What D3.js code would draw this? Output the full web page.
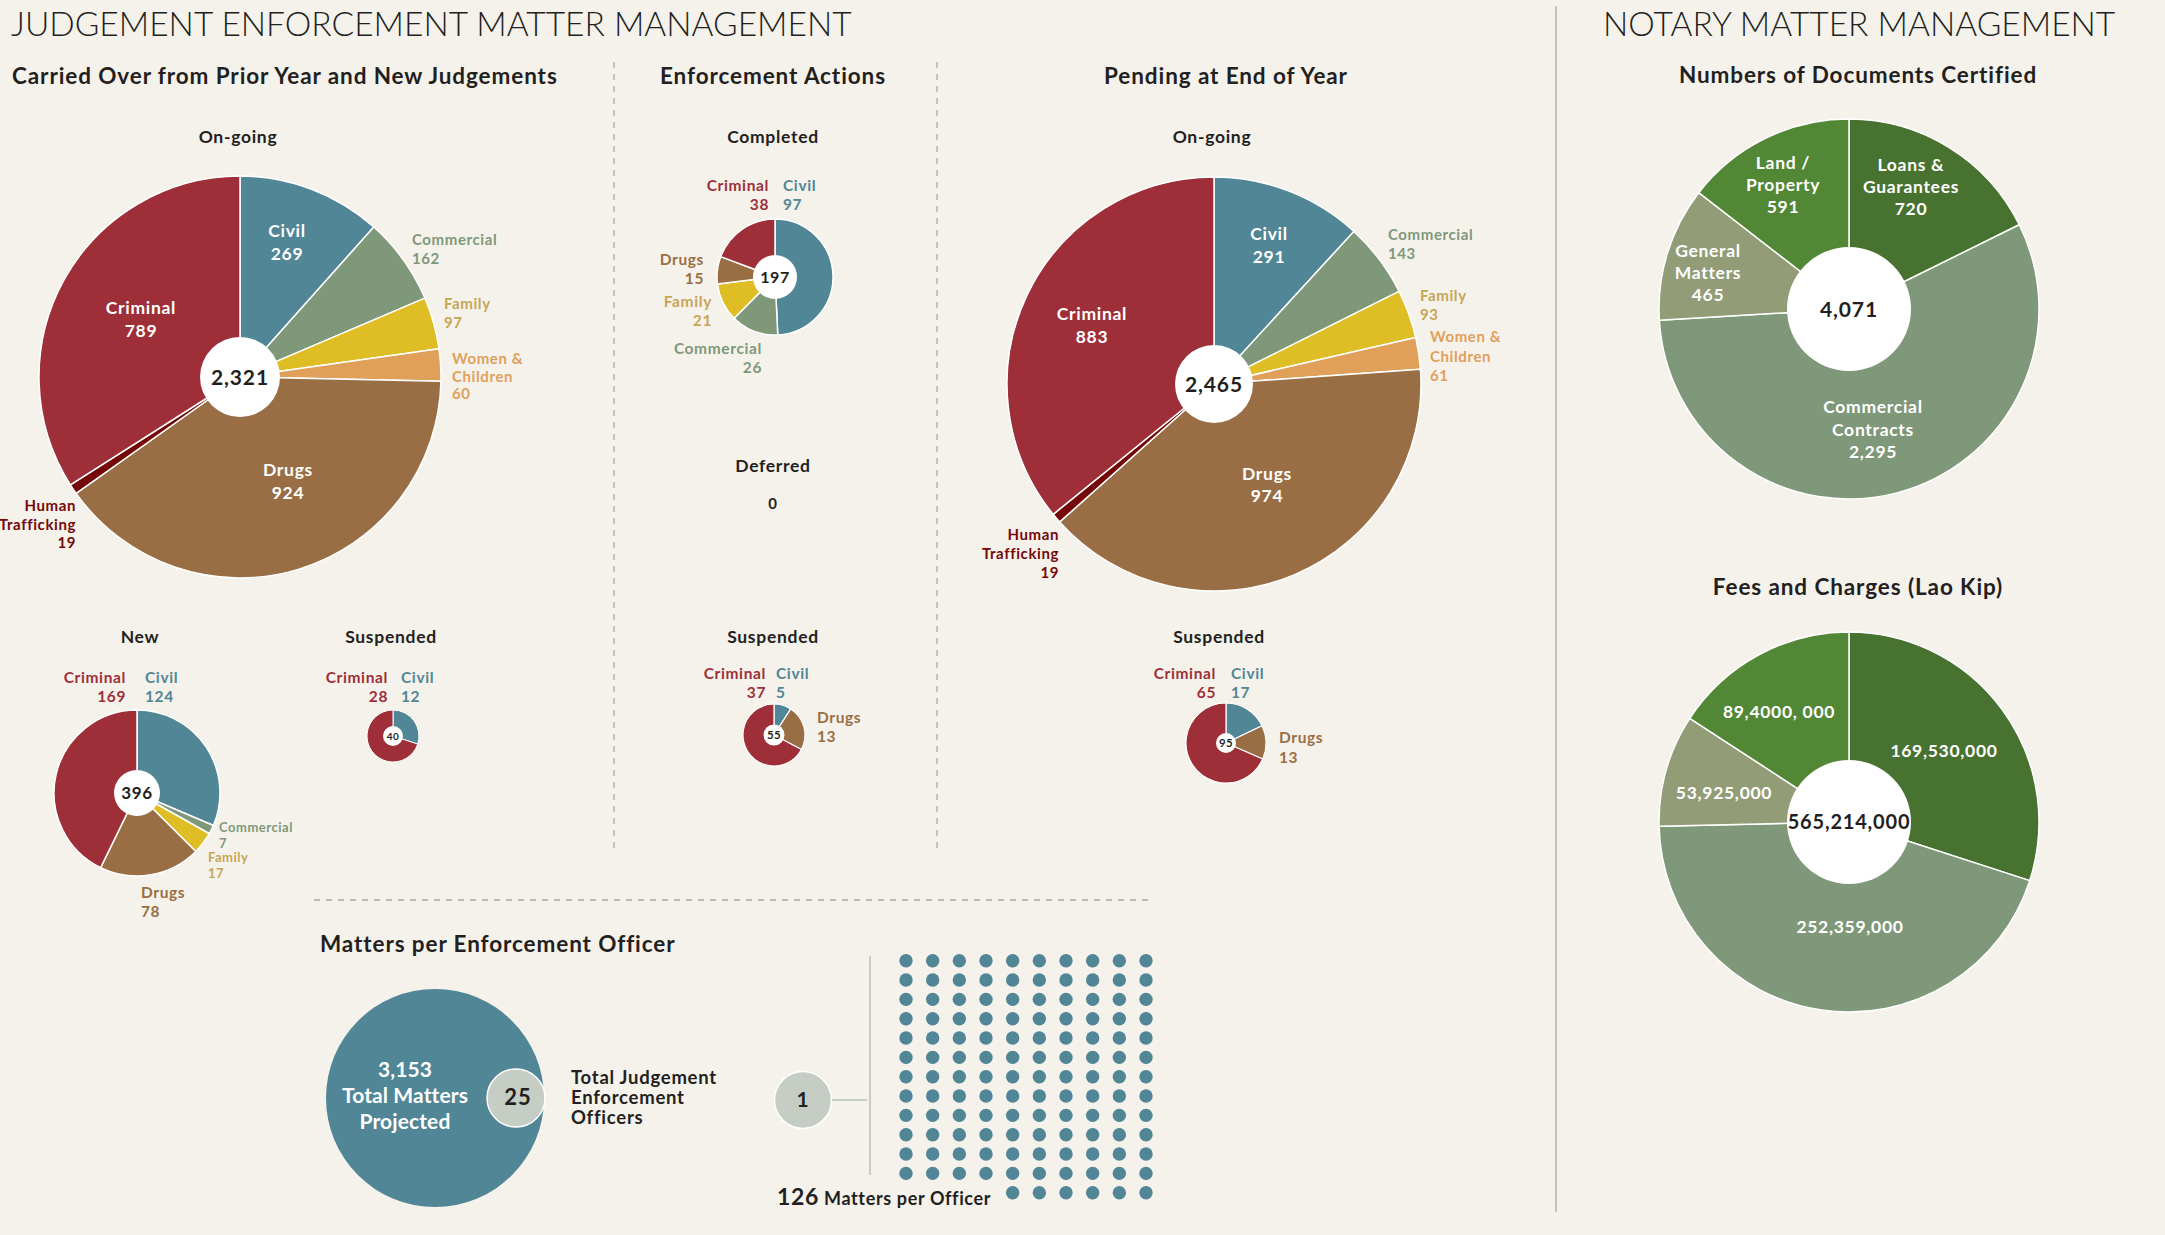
<!DOCTYPE html>
<html><head><meta charset="utf-8">
<script src="https://cdn.jsdelivr.net/npm/d3@7"></script>
<style>
html,body{margin:0;padding:0;background:#f5f2ec;}
svg{display:block;font-family:Lato,"Open Sans",sans-serif;}
svg text{letter-spacing:0.04em;}
</style></head><body>
<svg id="chart" width="2165" height="1235"></svg>
<script>
// ---------------- DATA ----------------
const caseCategories = ["Civil","Commercial","Family","Women & Children","Drugs","Human Trafficking","Criminal"];
const carriedOngoingValues = [269,162,97,60,924,19,789];
const carriedOngoingTotal = "2,321";
const newCategories = ["Civil","Commercial","Family","Drugs","Criminal"];
const newValues = [124,7,17,78,169];
const newTotal = "396";
const carriedSuspCategories = ["Civil","Criminal"];
const carriedSuspValues = [12,28];
const carriedSuspTotal = "40";
const completedCategories = ["Civil","Commercial","Family","Drugs","Criminal"];
const completedValues = [97,26,21,15,38];
const completedTotal = "197";
const deferredTotal = "0";
const enfSuspCategories = ["Civil","Drugs","Criminal"];
const enfSuspValues = [5,13,37];
const enfSuspTotal = "55";
const pendingOngoingValues = [291,143,93,61,974,19,883];
const pendingOngoingTotal = "2,465";
const pendSuspCategories = ["Civil","Drugs","Criminal"];
const pendSuspValues = [17,13,65];
const pendSuspTotal = "95";
const docCategories = ["Loans & Guarantees","Commercial Contracts","General Matters","Land / Property"];
const docValues = [720,2295,465,591];
const docTotal = "4,071";
const feeLabels = ["169,530,000","252,359,000","53,925,000","89,4000, 000"];
const feeValues = [169530000,252359000,53925000,89400000];
const feeTotal = "565,214,000";
const totalMatters = "3,153";
const enforcementOfficers = "25";
const perOfficerUnit = "1";
const mattersPerOfficer = 126;

// ---------------- STYLE ----------------
const ink = "#231f20";
const caseColor = d3.scaleOrdinal()
  .domain(["Civil","Commercial","Family","Women & Children","Drugs","Human Trafficking","Criminal"])
  .range(["#508695","#7f9879","#dfbd24","#e1a05a","#9a6e44","#750808","#9e2f38"]);
const caseLabelColor = d3.scaleOrdinal()
  .domain(["Civil","Commercial","Family","Women & Children","Drugs","Human Trafficking","Criminal"])
  .range(["#508695","#7f9879","#c6a655","#e1a05a","#9a6e44","#750808","#9e2f38"]);
const notaryColor = d3.scaleOrdinal().domain([0,1,2,3])
  .range(["#47722f","#7f9879","#929d78","#528736"]);

const svg = d3.select("#chart");
svg.append("rect").attr("width",2165).attr("height",1235).attr("fill","#f5f2ec");

function text(x,y,str,o={}){
  const t = svg.append("text").attr("x",x).attr("y",y).text(str)
    .attr("font-size",o.size||17).attr("font-weight",o.weight||700)
    .attr("fill",o.fill||ink).attr("text-anchor",o.anchor||"middle");
  if(o.ls!==undefined) t.style("letter-spacing",o.ls);
  return t;
}
function multi(g,x,y,lines,o){
  const t=g.append("text").attr("x",x).attr("y",y)
    .attr("font-size",o.size).attr("font-weight",700).attr("fill",o.fill)
    .attr("text-anchor",o.anchor);
  if(o.ls!==undefined) t.style("letter-spacing",o.ls);
  lines.forEach((l,i)=>t.append("tspan").attr("x",x).attr("dy",i?o.lh:0).text(l));
}

// generic pie
function drawPie(cfg){
  const g = svg.append("g").attr("transform",`translate(${cfg.cx},${cfg.cy})`);
  const items = cfg.cats.map((c,i)=>({c,v:cfg.values[i],i}));
  const arcs = d3.pie().sort(null).value(d=>d.v)(items);
  const arc = d3.arc().innerRadius(0).outerRadius(cfg.r);
  g.selectAll("path").data(arcs).join("path").attr("d",arc)
    .attr("fill",d=>cfg.color(d.data.c))
    .attr("stroke","#fff").attr("stroke-width",cfg.sw||1.5).attr("stroke-linejoin","round");
  g.append("circle").attr("r",cfg.ri).attr("fill","#fff");
  g.append("text").attr("y",cfg.ts*0.36).attr("text-anchor","middle")
    .attr("font-size",cfg.ts).attr("font-weight",700).attr("fill",ink).text(cfg.total);
  (cfg.labels||[]).forEach(L=>{
    const d = arcs[L.i];
    multi(g,L.x,L.y,L.lines.concat([L.val!==undefined?L.val:String(d.data.v)]),
      {size:L.size,anchor:L.anchor,lh:L.lh,fill:L.fill||cfg.labelColor(d.data.c)});
  });
  return g;
}

// ---------------- HEADERS & RULES ----------------
text(11,36,"JUDGEMENT ENFORCEMENT MATTER MANAGEMENT",{size:33.5,weight:300,anchor:"start",ls:"0"});
text(1603,36,"NOTARY MATTER MANAGEMENT",{size:33.5,weight:300,anchor:"start",ls:"0"});
svg.append("line").attr("x1",1556).attr("x2",1556).attr("y1",6).attr("y2",1212)
  .attr("stroke","#b4b2ad").attr("stroke-width",1.5);
[614,937].forEach(x=>svg.append("line").attr("x1",x).attr("x2",x).attr("y1",62).attr("y2",852)
  .attr("stroke","#aaa8a3").attr("stroke-width",1.3).attr("stroke-dasharray","6,6"));
svg.append("line").attr("x1",314).attr("x2",1153).attr("y1",900).attr("y2",900)
  .attr("stroke","#aaa8a3").attr("stroke-width",1.3).attr("stroke-dasharray","6,6");

text(12,84,"Carried Over from Prior Year and New Judgements",{size:22.5,anchor:"start"});
text(773,84,"Enforcement Actions",{size:22.5});
text(1226,84,"Pending at End of Year",{size:22.5});
text(1858,83,"Numbers of Documents Certified",{size:22.5});
text(1858,595,"Fees and Charges (Lao Kip)",{size:22.5});
text(320,952,"Matters per Enforcement Officer",{size:22.5,anchor:"start"});

text(238,143,"On-going",{size:17.5});
text(773,143,"Completed",{size:17.5});
text(773,472,"Deferred",{size:17.5});
text(773,509,deferredTotal,{size:15});
text(773,643,"Suspended",{size:17.5});
text(1212,143,"On-going",{size:17.5});
text(1219,643,"Suspended",{size:17.5});
text(140,643,"New",{size:17.5});
text(391,643,"Suspended",{size:17.5});

const white = "#ffffff";
// ---------------- CARRIED OVER: ON-GOING ----------------
drawPie({cx:240,cy:377,r:201,ri:40,cats:caseCategories,values:carriedOngoingValues,total:carriedOngoingTotal,ts:21,
  color:caseColor,labelColor:caseLabelColor,labels:[
  {i:0,lines:["Civil"],x:47,y:-140,anchor:"middle",size:17.5,lh:23,fill:white},
  {i:6,lines:["Criminal"],x:-99,y:-63,anchor:"middle",size:17.5,lh:23,fill:white},
  {i:4,lines:["Drugs"],x:48,y:99,anchor:"middle",size:17.5,lh:23,fill:white},
  {i:1,lines:["Commercial"],x:172,y:-132,anchor:"start",size:15,lh:19},
  {i:2,lines:["Family"],x:204,y:-68,anchor:"start",size:15,lh:19},
  {i:3,lines:["Women &","Children"],x:212,y:-13,anchor:"start",size:15,lh:17.5},
  {i:5,lines:["Human","Trafficking"],x:-164,y:134,anchor:"end",size:15,lh:18.5}
]});

// NEW
drawPie({cx:137,cy:793,r:83,ri:23,cats:newCategories,values:newValues,total:newTotal,ts:17,
  color:caseColor,labelColor:caseLabelColor,labels:[
  {i:4,lines:["Criminal"],x:-11,y:-110,anchor:"end",size:15.5,lh:18.5},
  {i:0,lines:["Civil"],x:8,y:-110,anchor:"start",size:15.5,lh:18.5},
  {i:1,lines:["Commercial"],x:82,y:39,anchor:"start",size:13,lh:16},
  {i:2,lines:["Family"],x:71,y:69,anchor:"start",size:13,lh:16},
  {i:3,lines:["Drugs"],x:4,y:105,anchor:"start",size:15.5,lh:19}
]});

// CARRIED SUSPENDED
drawPie({cx:393,cy:736,r:26,ri:10,cats:carriedSuspCategories,values:carriedSuspValues,total:carriedSuspTotal,ts:10,sw:1,
  color:caseColor,labelColor:caseLabelColor,labels:[
  {i:1,lines:["Criminal"],x:-5,y:-53,anchor:"end",size:15.5,lh:19},
  {i:0,lines:["Civil"],x:8,y:-53,anchor:"start",size:15.5,lh:19}
]});

// ---------------- ENFORCEMENT ----------------
drawPie({cx:775,cy:277,r:58,ri:22,cats:completedCategories,values:completedValues,total:completedTotal,ts:16,
  color:caseColor,labelColor:caseLabelColor,labels:[
  {i:4,lines:["Criminal"],x:-6,y:-86,anchor:"end",size:15.5,lh:18.5},
  {i:0,lines:["Civil"],x:8,y:-86,anchor:"start",size:15.5,lh:18.5},
  {i:3,lines:["Drugs"],x:-71,y:-12,anchor:"end",size:15.5,lh:18.5},
  {i:2,lines:["Family"],x:-63,y:30,anchor:"end",size:15.5,lh:18.5},
  {i:1,lines:["Commercial"],x:-13,y:77,anchor:"end",size:15.5,lh:19}
]});

drawPie({cx:774,cy:735,r:31,ri:10.5,cats:enfSuspCategories,values:enfSuspValues,total:enfSuspTotal,ts:11.5,sw:1.2,
  color:caseColor,labelColor:caseLabelColor,labels:[
  {i:2,lines:["Criminal"],x:-8,y:-56,anchor:"end",size:15.5,lh:19},
  {i:0,lines:["Civil"],x:2,y:-56,anchor:"start",size:15.5,lh:19},
  {i:1,lines:["Drugs"],x:43,y:-12,anchor:"start",size:15.5,lh:19}
]});

// ---------------- PENDING ----------------
drawPie({cx:1214,cy:384,r:207,ri:39,cats:caseCategories,values:pendingOngoingValues,total:pendingOngoingTotal,ts:21,
  color:caseColor,labelColor:caseLabelColor,labels:[
  {i:0,lines:["Civil"],x:55,y:-144,anchor:"middle",size:17.5,lh:23,fill:white},
  {i:6,lines:["Criminal"],x:-122,y:-64,anchor:"middle",size:17.5,lh:23,fill:white},
  {i:4,lines:["Drugs"],x:53,y:96,anchor:"middle",size:17.5,lh:22,fill:white},
  {i:1,lines:["Commercial"],x:174,y:-144,anchor:"start",size:15,lh:19},
  {i:2,lines:["Family"],x:206,y:-83,anchor:"start",size:15,lh:19},
  {i:3,lines:["Women &","Children"],x:216,y:-42,anchor:"start",size:15,lh:19.5},
  {i:5,lines:["Human","Trafficking"],x:-155,y:156,anchor:"end",size:15,lh:19}
]});

drawPie({cx:1226,cy:743,r:40,ri:10,cats:pendSuspCategories,values:pendSuspValues,total:pendSuspTotal,ts:11.5,sw:1.2,
  color:caseColor,labelColor:caseLabelColor,labels:[
  {i:2,lines:["Criminal"],x:-10,y:-64,anchor:"end",size:15.5,lh:19},
  {i:0,lines:["Civil"],x:5,y:-64,anchor:"start",size:15.5,lh:19},
  {i:1,lines:["Drugs"],x:53,y:0,anchor:"start",size:15.5,lh:20}
]});

// ---------------- NOTARY ----------------
const docItems = d3.range(docValues.length);
drawPie({cx:1849,cy:309,r:190,ri:62,cats:docItems,values:docValues,total:docTotal,ts:21,
  color:notaryColor,labelColor:()=>white,labels:[
  {i:0,lines:["Loans &","Guarantees"],x:62,y:-138,anchor:"middle",size:17.5,lh:22},
  {i:3,lines:["Land /","Property"],x:-66,y:-140,anchor:"middle",size:17.5,lh:22},
  {i:2,lines:["General","Matters"],x:-141,y:-52,anchor:"middle",size:17.5,lh:22},
  {i:1,lines:["Commercial","Contracts"],x:24,y:104,anchor:"middle",size:17.5,lh:22.5,val:"2,295"}
]});

drawPie({cx:1849,cy:822,r:190,ri:62,cats:docItems,values:feeValues,total:feeTotal,ts:20,
  color:notaryColor,labelColor:()=>white,labels:[
  {i:0,lines:[],val:feeLabels[0],x:95,y:-65,anchor:"middle",size:17.5,lh:20},
  {i:1,lines:[],val:feeLabels[1],x:1,y:111,anchor:"middle",size:17.5,lh:20},
  {i:2,lines:[],val:feeLabels[2],x:-125,y:-23,anchor:"middle",size:17.5,lh:20},
  {i:3,lines:[],val:feeLabels[3],x:-70,y:-104,anchor:"middle",size:17.5,lh:20}
]});

// ---------------- MATTERS PER OFFICER ----------------
const og = svg.append("g");
og.append("circle").attr("cx",435).attr("cy",1098).attr("r",109).attr("fill","#508695");
multi(og,405,1077,[totalMatters,"Total Matters","Projected"],{size:21,anchor:"middle",lh:25.8,fill:white,ls:"0.005em"});
og.append("circle").attr("cx",516).attr("cy",1098).attr("r",29).attr("fill","#c5cdc5").attr("stroke","#fff").attr("stroke-width",1.5);
og.append("text").attr("x",518).attr("y",1105).attr("text-anchor","middle").attr("font-size",22)
  .attr("font-weight",700).attr("fill",ink).text(enforcementOfficers);
multi(og,571,1084,["Total Judgement","Enforcement","Officers"],{size:18.5,anchor:"start",lh:20,fill:ink});

og.append("circle").attr("cx",803).attr("cy",1100).attr("r",28.5).attr("fill","#c5cdc5").attr("stroke","#fff").attr("stroke-width",1.5);
og.append("text").attr("x",803).attr("y",1107).attr("text-anchor","middle").attr("font-size",21)
  .attr("font-weight",700).attr("fill",ink).text(perOfficerUnit);
og.append("line").attr("x1",832).attr("x2",867).attr("y1",1100).attr("y2",1100).attr("stroke","#c5cdc5").attr("stroke-width",2);
og.append("line").attr("x1",870).attr("x2",870).attr("y1",956).attr("y2",1175).attr("stroke","#c5cdc5").attr("stroke-width",2);

const nCols = 10, nRows = Math.ceil(mattersPerOfficer/nCols);
const colScale = d3.scalePoint().domain(d3.range(nCols)).range([906,1146]);
const rowScale = d3.scalePoint().domain(d3.range(nRows)).range([960.7,1192.7]);
const lastRowCount = mattersPerOfficer - (nRows-1)*nCols;
og.selectAll("circle.dot").data(d3.range(mattersPerOfficer)).join("circle").attr("class","dot")
  .attr("cx",i=>{const r=Math.floor(i/nCols),c=i%nCols;return colScale(r===nRows-1?c+(nCols-lastRowCount):c);})
  .attr("cy",i=>rowScale(Math.floor(i/nCols)))
  .attr("r",6.7).attr("fill","#508695");

const t126 = og.append("text").attr("x",777).attr("y",1205).attr("text-anchor","start").attr("fill",ink).attr("font-weight",700);
t126.append("tspan").attr("font-size",23).text(String(mattersPerOfficer));
t126.append("tspan").attr("font-size",18).text(" Matters per Officer");
</script>
</body></html>
